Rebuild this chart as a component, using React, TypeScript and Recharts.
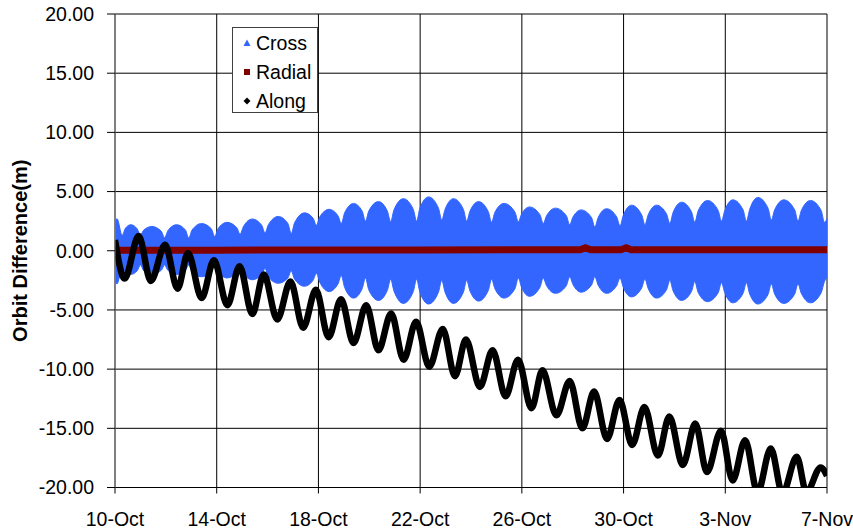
import React from 'react';
import { ComposedChart, Area, Line, XAxis, YAxis, CartesianGrid, Label } from 'recharts';

const FONT = '"Liberation Sans", Arial, Helvetica, sans-serif';

// x values are days since 10-Oct
const xTicks = [0, 4, 8, 12, 16, 20, 24, 28];
const xLabels = ['10-Oct', '14-Oct', '18-Oct', '22-Oct', '26-Oct', '30-Oct', '3-Nov', '7-Nov'];
const yTicks = [-20, -15, -10, -5, 0, 5, 10, 15, 20];

const seriesNames = ['Cross', 'Radial', 'Along'];
const seriesColors = ['#3366ff', '#800000', '#000000'];

// Cross: envelope (upper / lower) of the rapidly oscillating cross-track difference
const crossDays = [
  0, 0.08, 0.28,
  0.41, 0.62, 0.87, 1.0,
  1.13, 1.45, 1.82, 1.95,
  2.08, 2.42, 2.77, 2.9,
  3.03, 3.4, 3.79, 3.92,
  4.05, 4.4, 4.79, 4.92,
  5.05, 5.4, 5.77, 5.9,
  6.03, 6.42, 6.8, 6.93,
  7.06, 7.45, 7.79, 7.92,
  8.05, 8.42, 8.77, 8.9,
  9.03, 9.38, 9.72, 9.85,
  9.98, 10.36, 10.71, 10.84,
  10.97, 11.34, 11.73, 11.86,
  11.99, 12.33, 12.72, 12.85,
  12.98, 13.31, 13.7, 13.83,
  13.96, 14.3, 14.68, 14.81,
  14.94, 15.3, 15.73, 15.86,
  15.99, 16.3, 16.71, 16.84,
  16.97, 17.32, 17.75, 17.88,
  18.01, 18.33, 18.74, 18.87,
  19.0, 19.33, 19.73, 19.86,
  19.99, 20.31, 20.71, 20.84,
  20.97, 21.3, 21.69, 21.82,
  21.95, 22.28, 22.67, 22.8,
  22.93, 23.3, 23.72, 23.85,
  23.98, 24.3, 24.7, 24.83,
  24.96, 25.28, 25.68, 25.81,
  25.94, 26.3, 26.73, 26.86,
  26.99, 27.35, 27.77, 27.9,
  28,
];
const crossHigh = [
  2.5, 2.7, 1.3,
  1.9, 2.2, 1.85, 1.35,
  1.75, 2.05, 1.65, 1.1,
  1.7, 2.2, 1.75, 1.07,
  1.75, 2.3, 1.85, 1.2,
  1.85, 2.4, 1.95, 1.4,
  2.05, 2.68, 2.15, 1.5,
  2.2, 2.9, 2.3, 1.45,
  2.35, 3.2, 2.75, 2.15,
  2.85, 3.5, 2.95, 2.3,
  3.2, 4.0, 3.35, 2.5,
  3.35, 4.15, 3.35, 2.45,
  3.45, 4.4, 3.5, 2.5,
  3.6, 4.55, 3.6, 2.6,
  3.5, 4.4, 3.5, 2.5,
  3.35, 4.15, 3.3, 2.4,
  3.25, 4.0, 3.25, 2.45,
  3.1, 3.7, 3.05, 2.3,
  2.95, 3.6, 2.95, 2.2,
  2.85, 3.45, 2.8, 2.0,
  2.8, 3.55, 2.85, 2.1,
  3.0, 3.85, 3.05, 2.2,
  3.05, 3.85, 3.1, 2.3,
  3.25, 4.1, 3.3, 2.4,
  3.35, 4.25, 3.4, 2.5,
  3.4, 4.3, 3.45, 2.5,
  3.5, 4.5, 3.6, 2.6,
  3.45, 4.3, 3.45, 2.5,
  3.4, 4.25, 3.4, 2.4,
  2.7,
];
const crossLow = [
  -2.6, -2.8, -1.5,
  -1.8, -2.0, -1.7, -1.2,
  -1.7, -2.0, -1.65, -1.2,
  -1.65, -2.0, -1.65, -1.2,
  -1.75, -2.2, -1.8, -1.2,
  -1.8, -2.3, -1.85, -1.3,
  -1.95, -2.45, -2.0, -1.5,
  -2.2, -2.75, -2.3, -1.7,
  -2.4, -3.0, -2.5, -1.9,
  -2.65, -3.45, -2.8, -2.1,
  -3.1, -4.0, -3.2, -2.3,
  -3.3, -4.2, -3.35, -2.4,
  -3.4, -4.45, -3.45, -2.4,
  -3.5, -4.5, -3.5, -2.5,
  -3.5, -4.45, -3.5, -2.5,
  -3.4, -4.25, -3.35, -2.4,
  -3.2, -4.0, -3.2, -2.3,
  -3.1, -3.85, -3.1, -2.3,
  -2.95, -3.6, -2.95, -2.2,
  -2.85, -3.5, -2.9, -2.2,
  -2.9, -3.6, -2.95, -2.3,
  -3.1, -3.9, -3.15, -2.4,
  -3.2, -4.0, -3.3, -2.5,
  -3.4, -4.2, -3.45, -2.6,
  -3.5, -4.3, -3.55, -2.7,
  -3.55, -4.4, -3.6, -2.7,
  -3.65, -4.5, -3.7, -2.8,
  -3.65, -4.45, -3.65, -2.8,
  -3.6, -4.4, -3.55, -2.6,
  -2.3,
];

// Radial
const radialDays = [0, 4, 8, 12, 16, 18.3, 18.5, 18.7, 19.9, 20.1, 20.3, 24, 28];
const radialValues = [0.05, 0.05, 0.06, 0.07, 0.08, 0.08, 0.25, 0.08, 0.08, 0.25, 0.08, 0.09, 0.09];

// Along: peaks and troughs of the daily oscillation
const alongDays = [
  0, 0.38, 0.93, 1.41, 1.97, 2.46, 2.87, 3.41, 3.89, 4.42, 4.9, 5.4, 5.85, 6.38, 6.9, 7.4,
  7.9, 8.4, 8.89, 9.38, 9.88, 10.36, 10.86, 11.35, 11.84, 12.36, 12.89, 13.37, 13.8, 14.35,
  14.85, 15.36, 15.85, 16.38, 16.81, 17.36, 17.88, 18.38, 18.84, 19.35, 19.84, 20.34, 20.82,
  21.35, 21.8, 22.33, 22.82, 23.28, 23.83, 24.29, 24.78, 25.27, 25.79, 26.25, 26.81, 27.19,
  27.75, 28,
];
const alongValues = [
  0.9, -2.35, 1.25, -2.55, 0.5, -3.2, -0.2, -4.0, -0.8, -4.6, -1.3, -5.35, -2.0, -5.8, -2.6, -6.5,
  -3.3, -7.3, -4.1, -7.8, -4.6, -8.4, -5.3, -9.2, -6.0, -9.8, -6.6, -10.6, -7.5, -11.5,
  -8.4, -12.3, -9.2, -13.3, -10.1, -13.9, -11.0, -15.0, -11.9, -15.9, -12.6, -16.4, -13.2,
  -17.3, -14.0, -18.1, -14.6, -18.7, -15.2, -19.4, -16.0, -20.4, -16.7, -20.5, -17.4, -20.4,
  -18.3, -19.0,
];

const crossData = crossDays.map((d, i) => ({ day: d, cross: [crossLow[i], crossHigh[i]] }));
const radialData = radialDays.map((d, i) => ({ day: d, radial: radialValues[i] }));
const alongData = alongDays.map((d, i) => ({ day: d, along: alongValues[i] }));

const tickStyle = { fill: '#000', fontSize: 19.5, fontFamily: FONT };

const renderYTitle = (props: any) => {
  const vb = props.viewBox || { x: 0, y: 14, width: 115, height: 473 };
  const cx = 20;
  const cy = vb.y + vb.height / 2;
  return (
    <text
      x={cx}
      y={cy}
      transform={`rotate(-90, ${cx}, ${cy})`}
      textAnchor="middle"
      dominantBaseline="central"
      fontWeight="bold"
      fontSize={20}
      fontFamily={FONT}
      fill="#000"
    >
      Orbit Difference(m)
    </text>
  );
};

const Marker = ({ idx }: { idx: number }) => {
  const c = seriesColors[idx];
  return (
    <svg width={10} height={10} style={{ position: 'absolute', left: 9, top: -5 }}>
      {idx === 0 && <polygon points="5,1.5 8.5,8 1.5,8" fill={c} />}
      {idx === 1 && <rect x={2} y={2} width={6} height={6} fill={c} />}
      {idx === 2 && <polygon points="5,1.5 8.5,5 5,8.5 1.5,5" fill={c} />}
    </svg>
  );
};

export default function App() {
  return (
    <div style={{ position: 'absolute', left: 0, top: 0, width: 853, height: 529, background: '#fff', fontFamily: FONT, overflow: 'hidden' }}>
      <ComposedChart width={853} height={529} margin={{ top: 14, right: 26, bottom: 0, left: 0 }}>
        <CartesianGrid stroke="#000" strokeWidth={1} />
        <XAxis
          type="number"
          dataKey="day"
          domain={[0, 28]}
          ticks={xTicks}
          interval={0}
          allowDataOverflow
          tickFormatter={(v: number) => xLabels[xTicks.indexOf(v)]}
          height={41.5}
          tickSize={6}
          tickMargin={19}
          tick={tickStyle}
          axisLine={{ stroke: '#000' }}
          tickLine={{ stroke: '#000' }}
        />
        <YAxis
          type="number"
          domain={[-20, 20]}
          ticks={yTicks}
          interval={0}
          allowDataOverflow
          width={115}
          tickFormatter={(v: number) => v.toFixed(2)}
          tickSize={8}
          tickMargin={13}
          tick={tickStyle}
          axisLine={{ stroke: '#808080' }}
          tickLine={{ stroke: '#000' }}
        >
          <Label content={renderYTitle} />
        </YAxis>
        <Area
          data={crossData}
          dataKey="cross"
          name={seriesNames[0]}
          type="monotone"
          fill={seriesColors[0]}
          fillOpacity={1}
          stroke={seriesColors[0]}
          strokeWidth={1}
          dot={false}
          activeDot={false}
          isAnimationActive={false}
        />
        <Line
          data={radialData}
          dataKey="radial"
          name={seriesNames[1]}
          type="linear"
          stroke={seriesColors[1]}
          strokeWidth={7}
          dot={false}
          activeDot={false}
          isAnimationActive={false}
        />
        <Line
          data={alongData}
          dataKey="along"
          name={seriesNames[2]}
          type="monotone"
          stroke={seriesColors[2]}
          strokeWidth={6.5}
          dot={false}
          activeDot={false}
          isAnimationActive={false}
        />
      </ComposedChart>
      <div
        style={{
          position: 'absolute',
          left: 232,
          top: 27,
          width: 86,
          height: 86,
          border: '1px solid #404040',
          background: '#fff',
          boxSizing: 'border-box',
        }}
      >
        {seriesNames.map((n, i) => (
          <div key={n} style={{ position: 'absolute', left: 0, top: 15 + i * 29, width: 84, height: 0 }}>
            <Marker idx={i} />
            <div style={{ position: 'absolute', left: 23, top: -12, height: 24, lineHeight: '24px', fontSize: 19.5, color: '#000', whiteSpace: 'nowrap' }}>
              {n}
            </div>
          </div>
        ))}
      </div>
    </div>
  );
}
